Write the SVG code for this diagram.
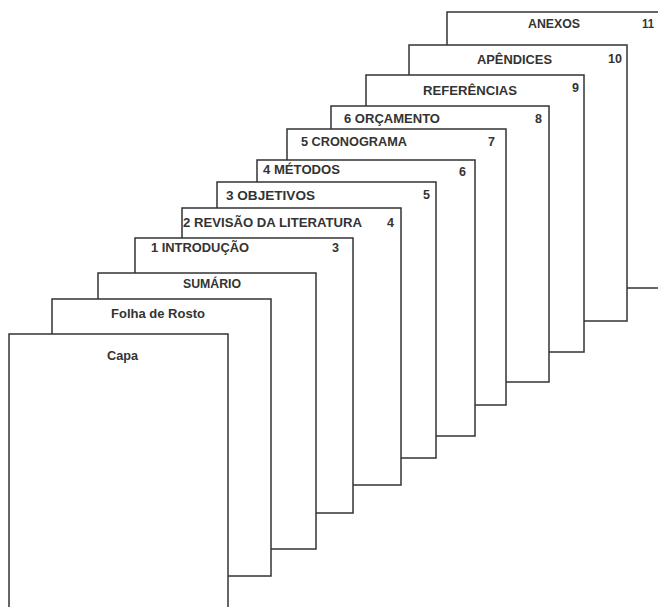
<svg xmlns="http://www.w3.org/2000/svg" width="658" height="607" viewBox="0 0 658 607">
<style>
.pg{fill:#fff;stroke:#333;stroke-width:1.5}
.t{font-family:"Liberation Sans",Arial,sans-serif;font-weight:bold;font-size:12.5px;fill:#333}
.c{font-family:"Liberation Sans",Arial,sans-serif;font-weight:bold;font-size:12.5px;fill:#333}
</style>
<rect width="658" height="607" fill="#fff"/>
<g id="anexos"><rect class="pg" x="447" y="12" width="260" height="276"/>
<text class="t" x="528" y="28" textLength="52" lengthAdjust="spacingAndGlyphs">ANEXOS</text>
<text class="t" x="642" y="28" textLength="12" lengthAdjust="spacingAndGlyphs">11</text></g>
<g id="apendices"><rect class="pg" x="409" y="45" width="218" height="276"/>
<text class="t" x="477" y="64" textLength="75" lengthAdjust="spacingAndGlyphs">APÊNDICES</text>
<text class="t" x="608" y="63" textLength="14" lengthAdjust="spacingAndGlyphs">10</text></g>
<g id="referencias"><rect class="pg" x="366" y="75" width="218" height="277"/>
<text class="t" x="423" y="95" textLength="94" lengthAdjust="spacingAndGlyphs">REFERÊNCIAS</text>
<text class="t" x="572" y="92">9</text></g>
<g id="orcamento"><rect class="pg" x="331" y="106" width="218" height="276"/>
<text class="t" x="344" y="123" textLength="96" lengthAdjust="spacingAndGlyphs">6 ORÇAMENTO</text>
<text class="t" x="535" y="123">8</text></g>
<g id="cronograma"><rect class="pg" x="287" y="129" width="219" height="276"/>
<text class="t" x="301" y="146" textLength="106" lengthAdjust="spacingAndGlyphs">5 CRONOGRAMA</text>
<text class="t" x="488" y="146">7</text></g>
<g id="metodos"><rect class="pg" x="257" y="160" width="218" height="276"/>
<text class="t" x="263" y="174" textLength="77" lengthAdjust="spacingAndGlyphs">4 MÉTODOS</text>
<text class="t" x="459" y="176">6</text></g>
<g id="objetivos"><rect class="pg" x="217" y="182" width="219" height="276"/>
<text class="t" x="226" y="200" textLength="89" lengthAdjust="spacingAndGlyphs">3 OBJETIVOS</text>
<text class="t" x="423" y="199">5</text></g>
<g id="revisao"><rect class="pg" x="182" y="208" width="219" height="277"/>
<text class="t" x="183" y="227" textLength="179" lengthAdjust="spacingAndGlyphs">2 REVISÃO DA LITERATURA</text>
<text class="t" x="387" y="227">4</text></g>
<g id="introducao"><rect class="pg" x="135" y="238" width="218" height="275"/>
<text class="t" x="151" y="252" textLength="98" lengthAdjust="spacingAndGlyphs">1 INTRODUÇÃO</text>
<text class="t" x="332" y="252">3</text></g>
<g id="sumario"><rect class="pg" x="98" y="273" width="218" height="276"/>
<text class="t" x="183" y="288" textLength="58" lengthAdjust="spacingAndGlyphs">SUMÁRIO</text></g>
<g id="folha"><rect class="pg" x="52" y="299" width="219" height="277"/>
<text class="c" x="111" y="318" textLength="94" lengthAdjust="spacingAndGlyphs">Folha de Rosto</text></g>
<g id="capa"><rect class="pg" x="9" y="334" width="219" height="290"/>
<text class="c" x="107" y="360" textLength="31" lengthAdjust="spacingAndGlyphs">Capa</text></g>
<g id="connectors"></g>
</svg>
